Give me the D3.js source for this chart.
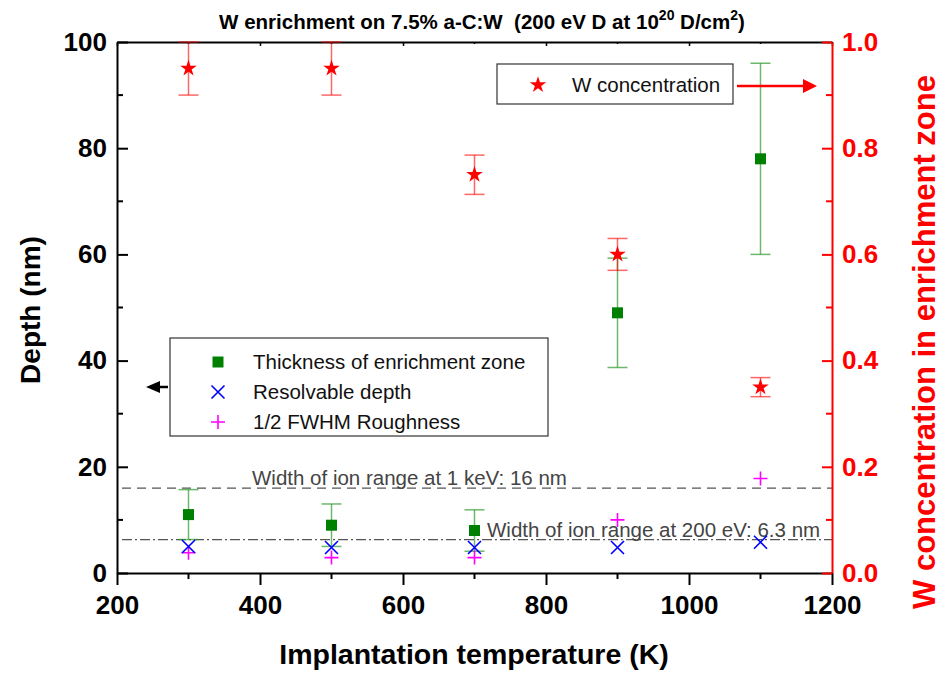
<!DOCTYPE html>
<html>
<head>
<meta charset="utf-8">
<script src="https://cdn.jsdelivr.net/npm/d3@7/dist/d3.min.js"></script>
<style>
  html, body { margin: 0; padding: 0; background: #fff; }
  svg { display: block; font-family: "Liberation Sans", Arial, sans-serif; }
</style>
</head>
<body>
<svg id="chart" width="942" height="673"></svg>
<script>
// Implantation temperatures (K)
const temperatures = [300, 500, 700, 900, 1100];

// Left axis (depth, nm)
const thickness = [11, 9, 8, 49, 78];
const thicknessErr = [4.7, 4, 3.9, 10.3, 18];
const resolvableDepth = [5, 4.8, 4.8, 4.8, 5.8];
const roughness = [3.8, 2.9, 2.9, 10, 17.8];

// Right axis (W concentration in enrichment zone)
const wConcentration = [0.95, 0.95, 0.75, 0.60, 0.35];
const wConcentrationErr = [0.05, 0.05, 0.037, 0.03, 0.018];

// Reference ion-range widths (nm)
const ionRange1keV = 16;
const ionRange200eV = 6.3;

const xTicks = [200, 400, 600, 800, 1000, 1200];
const depthTicks = [0, 20, 40, 60, 80, 100];
const concTicks = [0.0, 0.2, 0.4, 0.6, 0.8, 1.0];

const svg = d3.select("#chart");
const L = 117, R = 832, T = 42, B = 573;
const FONT = "Liberation Sans, Arial, sans-serif";

const x = d3.scaleLinear().domain([200, 1200]).range([L, R]);
const yL = d3.scaleLinear().domain([0, 100]).range([B, T]);
const yR = d3.scaleLinear().domain([0, 1]).range([B, T]);

const RED = "#ff0000";
const GREEN = "#008000";

// ---- reference lines ----
svg.append("line")
  .attr("x1", L + 5).attr("x2", R).attr("y1", yL(ionRange1keV)).attr("y2", yL(ionRange1keV))
  .attr("stroke", "#555").attr("stroke-width", 1.2).attr("stroke-dasharray", "9,6");
svg.append("line")
  .attr("x1", L + 5).attr("x2", R).attr("y1", yL(ionRange200eV)).attr("y2", yL(ionRange200eV))
  .attr("stroke", "#555").attr("stroke-width", 1.2).attr("stroke-dasharray", "10,3,2,3");

svg.append("text").attr("x", 252).attr("y", yL(ionRange1keV) - 3)
  .attr("font-size", 20.5).attr("fill", "#444")
  .text("Width of ion range at 1 keV: 16 nm");
svg.append("text").attr("x", 487).attr("y", yL(ionRange200eV) - 3)
  .attr("font-size", 20.5).attr("fill", "#444")
  .text("Width of ion range at 200 eV: 6.3 nm");

// ---- axes ----
const fmtInt = d3.format("d");
const xMinor = d3.range(300, 1200, 200);

// bottom axis (ticks outward)
const gB = svg.append("g").attr("transform", `translate(0,${B})`);
gB.call(d3.axisBottom(x).tickValues(xTicks).tickFormat(fmtInt).tickSize(12).tickSizeOuter(0))
  .call(g => g.select(".domain").attr("stroke-width", 2))
  .call(g => g.selectAll(".tick line").attr("stroke-width", 2))
  .call(g => g.selectAll("text").attr("font-size", 26).attr("font-weight", "bold")
    .attr("font-family", FONT).attr("fill", "#000").attr("y", 41).attr("dy", null));
gB.selectAll(".minor").data(xMinor).enter().append("line")
  .attr("x1", d => x(d)).attr("x2", d => x(d)).attr("y1", 0).attr("y2", 6)
  .attr("stroke", "#000").attr("stroke-width", 2);

// top axis (mirror, small inward ticks)
const gT = svg.append("g").attr("transform", `translate(0,${T})`);
gT.call(d3.axisTop(x).tickValues(xTicks).tickFormat("").tickSize(-4).tickSizeOuter(0))
  .call(g => g.select(".domain").attr("stroke-width", 2))
  .call(g => g.selectAll(".tick line").attr("stroke-width", 1.5));
gT.selectAll(".minor").data(xMinor).enter().append("line")
  .attr("x1", d => x(d)).attr("x2", d => x(d)).attr("y1", 0).attr("y2", 2)
  .attr("stroke", "#000").attr("stroke-width", 1.5);

// left axis (ticks inward)
const gL = svg.append("g").attr("transform", `translate(${L},0)`);
gL.call(d3.axisLeft(yL).tickValues(depthTicks).tickFormat(fmtInt).tickSize(-11).tickSizeOuter(0))
  .call(g => g.select(".domain").attr("stroke-width", 2))
  .call(g => g.selectAll(".tick line").attr("stroke-width", 2))
  .call(g => g.selectAll("text").attr("font-size", 26).attr("font-weight", "bold")
    .attr("font-family", FONT).attr("fill", "#000").attr("x", -10));
gL.selectAll(".minor").data(d3.range(10, 100, 20)).enter().append("line")
  .attr("x1", 0).attr("x2", 6).attr("y1", d => yL(d)).attr("y2", d => yL(d))
  .attr("stroke", "#000").attr("stroke-width", 2);

// right axis (red, ticks inward)
const gR = svg.append("g").attr("transform", `translate(${R},0)`);
gR.call(d3.axisRight(yR).tickValues(concTicks).tickFormat(d3.format(".1f")).tickSize(-10).tickSizeOuter(0))
  .call(g => g.select(".domain").attr("stroke", RED).attr("stroke-width", 2))
  .call(g => g.selectAll(".tick line").attr("stroke", RED).attr("stroke-width", 2))
  .call(g => g.selectAll("text").attr("font-size", 26).attr("font-weight", "bold")
    .attr("font-family", FONT).attr("fill", RED).attr("x", 10));
gR.selectAll(".minor").data(d3.range(0.1, 1, 0.2)).enter().append("line")
  .attr("x1", 0).attr("x2", -6).attr("y1", d => yR(d)).attr("y2", d => yR(d))
  .attr("stroke", RED).attr("stroke-width", 2);

// ---- error bars ----
function errorBars(vals, errs, yScale, color, opacity) {
  const g = svg.append("g").attr("stroke", color).attr("stroke-width", 1.5).attr("stroke-opacity", opacity);
  temperatures.forEach((t, i) => {
    const cx = x(t), lo = yScale(vals[i] - errs[i]), hi = yScale(Math.min(vals[i] + errs[i], yScale.domain()[1]));
    g.append("line").attr("x1", cx).attr("x2", cx).attr("y1", lo).attr("y2", hi);
    g.append("line").attr("x1", cx - 10).attr("x2", cx + 10).attr("y1", lo).attr("y2", lo);
    g.append("line").attr("x1", cx - 10).attr("x2", cx + 10).attr("y1", hi).attr("y2", hi);
  });
}
errorBars(thickness, thicknessErr, yL, "#2e9a2e", 0.7);
errorBars(wConcentration, wConcentrationErr, yR, RED, 0.6);

// ---- markers ----
const square = d3.symbol().type(d3.symbolSquare).size(121);
const star = d3.symbol().type(d3.symbolStar).size(85);

svg.append("g").selectAll("path").data(temperatures).enter().append("path")
  .attr("d", square).attr("fill", GREEN)
  .attr("transform", (d, i) => `translate(${x(d)},${yL(thickness[i])})`);

function cross(g, cx, cy, color) {
  g.append("path").attr("d", `M${cx - 6.5},${cy - 6.5}L${cx + 6.5},${cy + 6.5}M${cx - 6.5},${cy + 6.5}L${cx + 6.5},${cy - 6.5}`)
    .attr("stroke", color).attr("stroke-width", 1.6).attr("fill", "none");
}
function plus(g, cx, cy, color) {
  g.append("path").attr("d", `M${cx - 7},${cy}L${cx + 7},${cy}M${cx},${cy - 7}L${cx},${cy + 7}`)
    .attr("stroke", color).attr("stroke-width", 1.6).attr("fill", "none");
}
const gRough = svg.append("g");
temperatures.forEach((t, i) => plus(gRough, x(t), yL(roughness[i]), "#ff00ff"));
const gRes = svg.append("g");
temperatures.forEach((t, i) => cross(gRes, x(t), yL(resolvableDepth[i]), "#0000ff"));

svg.append("g").selectAll("path").data(temperatures).enter().append("path")
  .attr("d", star).attr("fill", RED)
  .attr("transform", (d, i) => `translate(${x(d)},${yR(wConcentration[i])})`);

// ---- legends ----
const lg1 = svg.append("g");
lg1.append("rect").attr("x", 170).attr("y", 338).attr("width", 378).attr("height", 98)
  .attr("fill", "#fff").attr("stroke", "#333").attr("stroke-width", 1.2);
lg1.append("path").attr("d", square).attr("fill", GREEN).attr("transform", "translate(218,362)");
cross(lg1, 218, 392, "#0000ff");
plus(lg1, 218, 422, "#ff00ff");
[["Thickness of enrichment zone", 362], ["Resolvable depth", 392], ["1/2 FWHM Roughness", 422]]
  .forEach(([t, yy]) => lg1.append("text").attr("x", 253).attr("y", yy).attr("dy", "0.35em")
    .attr("font-size", 20.5).attr("fill", "#111").text(t));

const lg2 = svg.append("g");
lg2.append("rect").attr("x", 497).attr("y", 64).attr("width", 236).attr("height", 40)
  .attr("fill", "#fff").attr("stroke", "#333").attr("stroke-width", 1.2);
lg2.append("path").attr("d", star).attr("fill", RED).attr("transform", "translate(538,85)");
lg2.append("text").attr("x", 572).attr("y", 85).attr("dy", "0.35em")
  .attr("font-size", 20.5).attr("fill", "#111").text("W concentration");

// arrows pointing to each series' axis
svg.append("line").attr("x1", 737).attr("x2", 806).attr("y1", 86).attr("y2", 86)
  .attr("stroke", RED).attr("stroke-width", 2.5);
svg.append("path").attr("d", "M803,79L817,86L803,93Z").attr("fill", RED);
svg.append("line").attr("x1", 168).attr("x2", 156).attr("y1", 387).attr("y2", 387)
  .attr("stroke", "#000").attr("stroke-width", 2.5);
svg.append("path").attr("d", "M160,381L146,387L160,393Z").attr("fill", "#000");

// ---- titles ----
const title = svg.append("text").attr("x", 482).attr("y", 29).attr("text-anchor", "middle")
  .attr("font-size", 20.5).attr("font-weight", "bold");
title.append("tspan").text("W enrichment on 7.5% a-C:W\u00a0 (200 eV D at 10");
title.append("tspan").attr("dy", -9).attr("font-size", 14).text("20");
title.append("tspan").attr("dy", 9).text(" D/cm");
title.append("tspan").attr("dy", -9).attr("font-size", 14).text("2");
title.append("tspan").attr("dy", 9).text(")");

svg.append("text").attr("x", 474).attr("y", 664).attr("text-anchor", "middle")
  .attr("font-size", 28.5).attr("font-weight", "bold").text("Implantation temperature (K)");
svg.append("text").attr("transform", "translate(40,310) rotate(-90)").attr("text-anchor", "middle")
  .attr("font-size", 28).attr("font-weight", "bold").text("Depth (nm)");
svg.append("text").attr("transform", "translate(935,342) rotate(-90)").attr("text-anchor", "middle")
  .attr("font-size", 31).attr("font-weight", "bold").attr("fill", RED)
  .text("W concentration in enrichment zone");
</script>
</body>
</html>
